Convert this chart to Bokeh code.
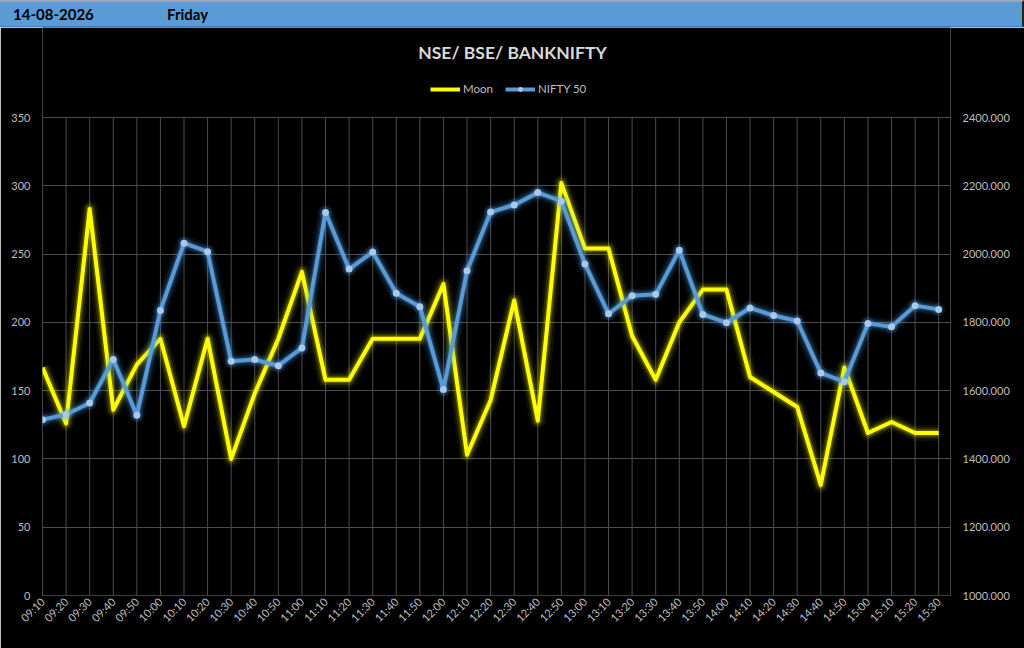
from bokeh.plotting import figure
from bokeh.models import (Range1d, LinearAxis, FixedTicker, NumeralTickFormatter,
                          Label, Legend, LegendItem, Div)
from bokeh.layouts import column
from bokeh.embed import file_html
from bokeh.resources import INLINE

# ---------------- data ----------------
times = ["09:10", "09:20", "09:30", "09:40", "09:50", "10:00", "10:10", "10:20",
         "10:30", "10:40", "10:50", "11:00", "11:10", "11:20", "11:30", "11:40",
         "11:50", "12:00", "12:10", "12:20", "12:30", "12:40", "12:50", "13:00",
         "13:10", "13:20", "13:30", "13:40", "13:50", "14:00", "14:10", "14:20",
         "14:30", "14:40", "14:50", "15:00", "15:10", "15:20", "15:30"]

moon = [167, 126, 283, 136, 169, 188, 124, 188, 100, 148, 188, 237, 158,
        158, 188, 188, 188, 228, 103, 143, 216, 128, 302, 254, 254, 190,
        158, 200, 224, 224, 160, 149, 138, 81, 167, 119, 127, 119, 119]

nifty = [1515, 1530, 1564, 1691, 1528, 1835, 2032, 2007, 1686, 1691, 1673, 1725, 2122,
         1956, 2006, 1885, 1846, 1603, 1951, 2123, 2144, 2180, 2155, 1971, 1825, 1878,
         1882, 2011, 1823, 1799, 1842, 1820, 1804, 1652, 1626, 1797, 1787, 1849, 1838]

left_ticks = [0, 50, 100, 150, 200, 250, 300, 350]
right_ticks = [1000, 1200, 1400, 1600, 1800, 2000, 2200, 2400]

date_text = "14-08-2026"
day_text = "Friday"
title_text = "NSE/ BSE/ BANKNIFTY"
series_names = ["Moon", "NIFTY 50"]

# ---------------- style / geometry ----------------
FONT = "Lato"
YELLOW = "#ffff00"
BLUE = "#5b9bd5"
GLOW_B = "#4fa3f0"
MARK = "#a9c8ea"
LABEL_C = "#bfbfbf"
GRID_C = "#4d4d4d"

W, H_HEAD, H_FIG = 1024, 27, 621
B_LEFT, B_RIGHT, B_BOTTOM = 42, 74, 53
FRAME_H = H_FIG - B_BOTTOM          # frame spans from top of figure
DATA_H = 478                          # pixels used by the 0..350 scale
ext = FRAME_H / DATA_H                # headroom above the axis top for title/legend

x = list(range(len(times)))

header = Div(
    text=(f'<span style="display:inline-block;width:154px">{date_text}</span>'
          f'<span>{day_text}</span>'),
    width=W, height=H_HEAD, margin=(0, 0, 0, 0),
    styles={"background-color": BLUE, "font-family": FONT, "font-weight": "bold",
            "font-size": "15px", "color": "#000000", "line-height": "24px",
            "padding-left": "13px", "box-sizing": "border-box",
            "border-top": "2px solid #a6a6a6", "border-bottom": "1px solid #3f7fbf",
            "border-right": "2px solid #222222"},
)

y0, y1 = left_ticks[0], left_ticks[-1]
r0, r1 = right_ticks[0], right_ticks[-1]
p = figure(width=W, height=H_FIG, output_backend="svg", toolbar_location=None,
           x_range=Range1d(0, len(times) - 0.5),
           y_range=Range1d(y0, y0 + (y1 - y0) * ext),
           min_border_left=B_LEFT, min_border_right=B_RIGHT, min_border_top=0,
           min_border_bottom=B_BOTTOM,
           background_fill_color="black", border_fill_color="black", outline_line_color=None)
p.extra_y_ranges = {"right": Range1d(r0, r0 + (r1 - r0) * ext)}

# axes
xa = p.xaxis[0]
xa.ticker = FixedTicker(ticks=x)
xa.major_label_overrides = {i: t for i, t in enumerate(times)}
xa.major_label_orientation = 0.785398
ya = p.yaxis[0]
ya.ticker = FixedTicker(ticks=left_ticks)
ra = LinearAxis(y_range_name="right", ticker=FixedTicker(ticks=right_ticks),
                formatter=NumeralTickFormatter(format="0.000"))
p.add_layout(ra, "right")

for ax in (xa, ya, ra):
    ax.axis_line_color = None
    ax.major_tick_line_color = None
    ax.minor_tick_line_color = None
    ax.major_tick_in = 0
    ax.major_tick_out = 0
    ax.major_label_text_color = LABEL_C
    ax.major_label_text_font = FONT
    ax.major_label_text_font_size = "11px"
ya.major_label_standoff = 12
ra.major_label_standoff = 12
xa.major_label_standoff = 4

# grid: horizontal from the left axis ticks, vertical only over the value band
p.xgrid.grid_line_color = None
p.ygrid.grid_line_color = GRID_C
p.segment(x0=x, y0=[y0] * len(x), x1=x, y1=[y1] * len(x), line_color=GRID_C, line_width=1)

# glow + series
for w, a in [(16, 0.06), (11, 0.12), (7, 0.22)]:
    p.line(x, moon, line_width=w, color=YELLOW, alpha=a, line_join="round")
moon_r = p.line(x, moon, line_width=4, color=YELLOW, line_join="round")

for w, a in [(16, 0.06), (11, 0.12), (7, 0.22)]:
    p.line(x, nifty, line_width=w, color=GLOW_B, alpha=a, line_join="round",
           y_range_name="right")
nifty_r = p.line(x, nifty, line_width=4, color=BLUE, line_join="round", y_range_name="right")
p.scatter(x, nifty, size=13, fill_color=GLOW_B, fill_alpha=0.15, line_color=None,
          y_range_name="right")
nifty_m = p.scatter(x, nifty, size=7, fill_color=MARK, line_color=None, y_range_name="right")

# title
p.add_layout(Label(x=470, y=FRAME_H - 25, x_units="screen", y_units="screen", text=title_text,
                   text_align="center", text_baseline="middle", text_font=FONT,
                   text_font_size="17.5px", text_font_style="bold", text_color="#d9d9d9"))

legend = Legend(items=[LegendItem(label=series_names[0], renderers=[moon_r]),
                       LegendItem(label=series_names[1], renderers=[nifty_r, nifty_m])],
                location=(388, FRAME_H - 68), orientation="horizontal",
                background_fill_alpha=0, border_line_color=None,
                label_text_color=LABEL_C, label_text_font=FONT, label_text_font_size="11.5px",
                glyph_width=30, glyph_height=12, spacing=12, padding=0, margin=0,
                label_standoff=3)
p.add_layout(legend)

layout = column(header, p, spacing=0)
open("out.html", "w").write(file_html(layout, INLINE))
